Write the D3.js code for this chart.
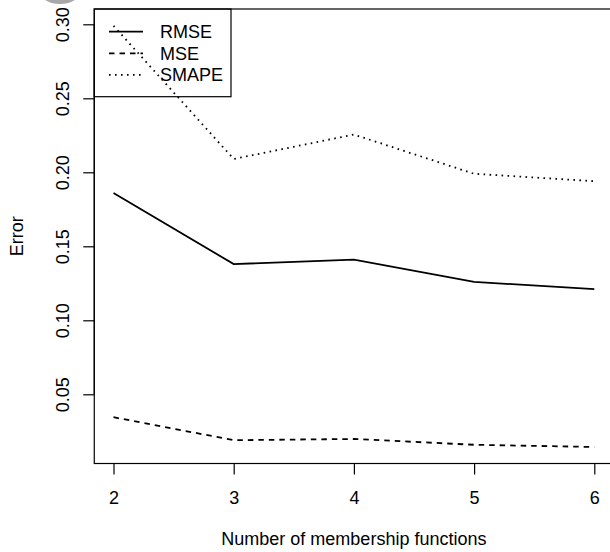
<!DOCTYPE html>
<html>
<head>
<meta charset="utf-8">
<script src="https://cdnjs.cloudflare.com/ajax/libs/d3/7.8.5/d3.min.js"></script>
<style>
	body { margin: 0; background: #fff; }
	svg { display: block; }
	text { font-family: "Liberation Sans", Arial, Helvetica, sans-serif; fill: #000; }
</style>
</head>
<body>
<div id="chart"></div>
<script>
// number of membership functions
var mfs = [2, 3, 4, 5, 6];
var rmse = [0.186, 0.138, 0.141, 0.126, 0.121];
var mse = [0.0345, 0.019, 0.0198, 0.0159, 0.0144];
var smape = [0.299, 0.209, 0.2255, 0.199, 0.194];
var yTicks = [0.05, 0.10, 0.15, 0.20, 0.25, 0.30];
var seriesNames = ["RMSE", "MSE", "SMAPE"];

document.addEventListener("DOMContentLoaded", function(event) {

	var width = 610;
	var height = 552;
	var fontSize = 18;

	var svg = d3.select("#chart").append("svg")
	.attr("width", width)
	.attr("height", height);

	// R style 4% padding around the data range
	var x = d3.scaleLinear().domain([2, 6]).range([113.5, 594.3]);
	var y = d3.scaleLinear().domain([0.05, 0.30]).range([394.3, 24.3]);

	var left = x(1.84);
	var right = x(6.16);
	var top = 9;
	var bottom = 463.5;

	// grey blob cut at the top edge
	svg.append("ellipse")
	.attr("cx", 60)
	.attr("cy", -7)
	.attr("rx", 19)
	.attr("ry", 11)
	.attr("fill", "#a8a8a8");

	// plot box
	svg.append("rect")
	.attr("x", left)
	.attr("y", top)
	.attr("width", right - left)
	.attr("height", bottom - top)
	.attr("fill", "none")
	.attr("stroke", "#000")
	.attr("stroke-width", 1.2);

	var xAxis = svg.append("g")
	.attr("transform", "translate(0," + bottom + ")")
	.call(d3.axisBottom(x).tickValues(mfs).tickFormat(d3.format("d")).tickSize(11).tickPadding(17));

	var yAxis = svg.append("g")
	.attr("transform", "translate(" + left + ",0)")
	.call(d3.axisLeft(y).tickValues(yTicks).tickFormat(d3.format(".2f")).tickSize(11));

	[xAxis, yAxis].forEach(function(ax) {
		ax.select(".domain").attr("stroke", "#000").attr("stroke-width", 1.2);
		ax.selectAll(".tick line").attr("stroke", "#000").attr("stroke-width", 1.2);
		ax.selectAll("text").style("font-size", fontSize + "px").attr("fill", "#000");
	});
	// axis line only between first and last tick like R
	xAxis.select(".domain").attr("d", "M" + x(2) + ",0H" + x(6));
	yAxis.select(".domain").attr("d", "M0," + y(0.05) + "V" + y(0.30));

	// rotated y labels
	yAxis.selectAll(".tick text")
	.attr("x", null)
	.attr("dy", null)
	.attr("text-anchor", "middle")
	.attr("transform", "translate(" + (69 - left) + ",0) rotate(-90)");

	svg.append("text")
	.attr("x", (left + right) / 2)
	.attr("y", 545)
	.attr("text-anchor", "middle")
	.style("font-size", fontSize + "px")
	.text("Number of membership functions");

	svg.append("text")
	.attr("transform", "translate(23," + ((top + bottom) / 2) + ") rotate(-90)")
	.attr("text-anchor", "middle")
	.style("font-size", fontSize + "px")
	.text("Error");

	var dashes = ["none", "5.5,5", "1.6,4.4"];
	var allSeries = [rmse, mse, smape];

	var line = d3.line()
	.x(function(d, i) { return x(mfs[i]); })
	.y(function(d) { return y(d); });

	svg.append("g")
	.selectAll("path")
	.data(allSeries)
	.enter().append("path")
	.attr("d", line)
	.attr("fill", "none")
	.attr("stroke", "#000")
	.attr("stroke-width", 1.8)
	.attr("stroke-dasharray", function(d, i) { return dashes[i]; });

	// legend, transparent box
	var legend = svg.append("g");
	legend.append("rect")
	.attr("x", left)
	.attr("y", top)
	.attr("width", 231 - left)
	.attr("height", 96.7 - top)
	.attr("fill", "none")
	.attr("stroke", "#000")
	.attr("stroke-width", 1.2);

	var rows = legend.selectAll("g.row")
	.data(seriesNames)
	.enter().append("g")
	.attr("class", "row")
	.attr("transform", function(d, i) { return "translate(0," + (31.7 + i * 21.6) + ")"; });

	rows.append("line")
	.attr("x1", 109)
	.attr("x2", 143)
	.attr("stroke", "#000")
	.attr("stroke-width", 1.8)
	.attr("stroke-dasharray", function(d, i) { return dashes[i]; });

	rows.append("text")
	.attr("x", 160)
	.attr("dy", "0.35em")
	.style("font-size", fontSize + "px")
	.text(function(d) { return d; });

});
</script>
</body>
</html>
